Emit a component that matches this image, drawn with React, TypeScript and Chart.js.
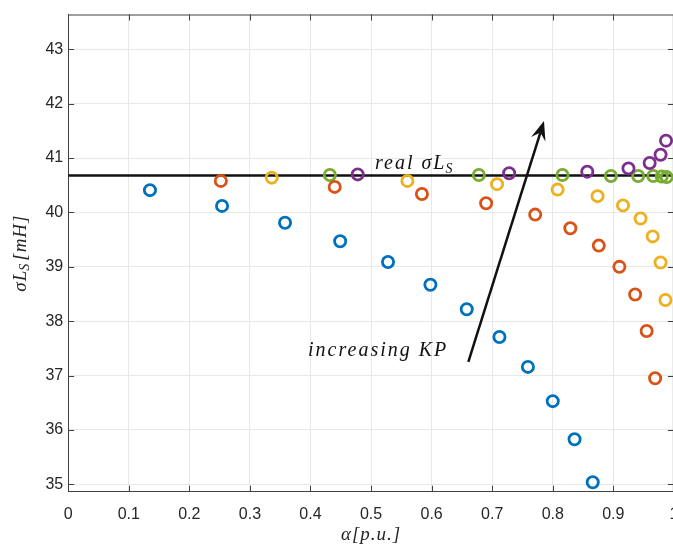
import React, { useEffect, useRef } from 'react';
import { Chart, registerables } from 'chart.js';
Chart.register(...registerables);

// ---- data (alpha [p.u.], sigma*Ls [mH]) ----
const blueX = [0.135, 0.254, 0.358, 0.449, 0.528, 0.598, 0.658, 0.712, 0.759, 0.800, 0.836, 0.866];
const blueY = [40.41, 40.12, 39.81, 39.47, 39.09, 38.67, 38.22, 37.71, 37.16, 36.53, 35.83, 35.04];
const orangeX = [0.252, 0.440, 0.584, 0.690, 0.771, 0.829, 0.876, 0.910, 0.936, 0.955, 0.969];
const orangeY = [40.58, 40.47, 40.34, 40.17, 39.96, 39.71, 39.39, 39.00, 38.49, 37.82, 36.95];
const yellowX = [0.336, 0.560, 0.708, 0.808, 0.874, 0.916, 0.945, 0.965, 0.978, 0.986];
const yellowY = [40.64, 40.58, 40.52, 40.42, 40.30, 40.13, 39.89, 39.56, 39.08, 38.39];
const purpleX = [0.478, 0.728, 0.857, 0.925, 0.960, 0.978, 0.987];
const purpleY = [40.70, 40.72, 40.75, 40.81, 40.91, 41.06, 41.32];
const greenX = [0.432, 0.678, 0.816, 0.896, 0.941, 0.966, 0.980, 0.988];
const greenY = [40.69, 40.69, 40.69, 40.67, 40.67, 40.67, 40.66, 40.65];

const refLineY = 40.68;
const refLineX = [0, 1];

const xTicks = [0, 0.1, 0.2, 0.3, 0.4, 0.5, 0.6, 0.7, 0.8, 0.9, 1];
const xTickLabels = ['0', '0.1', '0.2', '0.3', '0.4', '0.5', '0.6', '0.7', '0.8', '0.9', '1'];
const yTicks = [35, 36, 37, 38, 39, 40, 41, 42, 43];
const yTickLabels = ['35', '36', '37', '38', '39', '40', '41', '42', '43'];
const xRange = [0, 1];
const yRange = [34.865, 43.64];

// annotation anchors in data coordinates
const arrowTail = [0.6606, 37.25];
const arrowTip = [0.7855, 41.68];
const realLabelAt = [0.5065, 40.80];
const incLabelAt = [0.396, 37.36];

const colors = {
  blue: '#0072BD',
  orange: '#D95319',
  yellow: '#EDB120',
  purple: '#7E2F8E',
  green: '#77AC30',
};

const toPts = (xs: number[], ys: number[]) => xs.map((x, i) => ({ x, y: ys[i] }));

const SERIF = '"Liberation Serif", "Times New Roman", serif';
const TARGET = { left: 68.2, right: 673.9, top: 14.5, bottom: 491.7 };

const decor = {
  id: 'decor',
  beforeDatasetsDraw(chart: any) {
    const { ctx, chartArea: a, scales } = chart;
    const xs = scales.x, ys = scales.y;
    ctx.save();
    ctx.strokeStyle = '#404040';
    ctx.lineWidth = 1;
    ctx.beginPath();
    ctx.moveTo(a.left, a.top + 0.5);
    ctx.lineTo(a.right, a.top + 0.5);
    ctx.moveTo(a.right - 0.5, a.top);
    ctx.lineTo(a.right - 0.5, a.bottom);
    const tl = 6;
    xTicks.forEach((v) => {
      const px = Math.round(xs.getPixelForValue(v)) + 0.5;
      ctx.moveTo(px, a.bottom);
      ctx.lineTo(px, a.bottom - tl);
      ctx.moveTo(px, a.top);
      ctx.lineTo(px, a.top + tl);
    });
    yTicks.forEach((v) => {
      const py = Math.round(ys.getPixelForValue(v)) + 0.5;
      ctx.moveTo(a.left, py);
      ctx.lineTo(a.left + tl, py);
      ctx.moveTo(a.right, py);
      ctx.lineTo(a.right - tl, py);
    });
    ctx.stroke();
    ctx.restore();
  },
  afterDatasetsDraw(chart: any) {
    const { ctx, chartArea: a, scales } = chart;
    const xs = scales.x, ys = scales.y;
    ctx.save();
    // arrow
    const tx = xs.getPixelForValue(arrowTail[0]);
    const ty = ys.getPixelForValue(arrowTail[1]);
    const hx = xs.getPixelForValue(arrowTip[0]);
    const hy = ys.getPixelForValue(arrowTip[1]);
    const dx = hx - tx, dy = hy - ty;
    const len = Math.hypot(dx, dy);
    const ux = dx / len, uy = dy / len;
    const nx = -uy, ny = ux;
    const L = 19, W = 7.5, notch = 12;
    ctx.strokeStyle = '#111';
    ctx.fillStyle = '#111';
    ctx.lineWidth = 2.5;
    ctx.beginPath();
    ctx.moveTo(tx, ty);
    ctx.lineTo(hx - ux * notch, hy - uy * notch);
    ctx.stroke();
    ctx.beginPath();
    ctx.moveTo(hx, hy);
    ctx.lineTo(hx - ux * L + nx * W, hy - uy * L + ny * W);
    ctx.lineTo(hx - ux * notch, hy - uy * notch);
    ctx.lineTo(hx - ux * L - nx * W, hy - uy * L - ny * W);
    ctx.closePath();
    ctx.fill();

    // text labels
    ctx.fillStyle = '#111';
    ctx.textBaseline = 'alphabetic';
    ctx.textAlign = 'left';
    (ctx as any).letterSpacing = '2px';
    ctx.font = `italic 20px ${SERIF}`;
    const x0 = xs.getPixelForValue(realLabelAt[0]);
    const y0 = ys.getPixelForValue(realLabelAt[1]);
    ctx.fillText('real σL', x0, y0);
    const w0 = ctx.measureText('real σL').width;
    ctx.font = `italic 14px ${SERIF}`;
    ctx.fillText('S', x0 + w0 - 1, y0 + 4);

    ctx.font = `italic 20px ${SERIF}`;
    ctx.fillText('increasing KP', xs.getPixelForValue(incLabelAt[0]), ys.getPixelForValue(incLabelAt[1]));

    // axis titles
    ctx.fillStyle = '#262626';
    (ctx as any).letterSpacing = '1px';
    ctx.textBaseline = 'middle';
    ctx.font = `italic 19px ${SERIF}`;
    const xt = 'α[p.u.]';
    const xtw = ctx.measureText(xt).width;
    ctx.fillText(xt, (a.left + a.right) / 2 - xtw / 2, 535);

    // y title, rotated
    ctx.save();
    ctx.translate(21, (a.top + a.bottom) / 2);
    ctx.rotate(-Math.PI / 2);
    ctx.font = `italic 19px ${SERIF}`;
    const p1 = 'σL';
    const w1 = ctx.measureText(p1).width;
    ctx.font = `italic 14px ${SERIF}`;
    const w2 = ctx.measureText('S').width;
    ctx.font = `italic 19px ${SERIF}`;
    const p3 = '[mH]';
    const w3 = ctx.measureText(p3).width;
    const total = w1 + w2 + 1 + w3;
    let cx = -total / 2;
    ctx.fillText(p1, cx, 0);
    cx += w1;
    ctx.font = `italic 14px ${SERIF}`;
    ctx.fillText('S', cx - 1, 4);
    cx += w2 + 1;
    ctx.font = `italic 19px ${SERIF}`;
    ctx.fillText(p3, cx, 0);
    ctx.restore();

    ctx.restore();
  },
};

export default function App() {
  const ref = useRef<HTMLCanvasElement | null>(null);
  useEffect(() => {
    if (!ref.current) return;
    const dims = { yWidth: TARGET.left, xHeight: 547 - TARGET.bottom };
    const scatterDs = (label: string, xs: number[], ys: number[], color: string) => ({
      type: 'scatter' as const,
      label,
      data: toPts(xs, ys),
      borderColor: color,
      backgroundColor: 'rgba(0,0,0,0)',
      pointStyle: 'circle',
      pointRadius: 5.6,
      pointBorderWidth: 2.8,
      showLine: false,
      order: 1,
    });
    const chart = new Chart(ref.current, {
      type: 'scatter',
      data: {
        datasets: [
          {
            type: 'line',
            label: 'real',
            data: refLineX.map((x) => ({ x, y: refLineY })),
            borderColor: '#111',
            borderWidth: 2.5,
            pointRadius: 0,
            order: 10,
          } as any,
          scatterDs('KP1', blueX, blueY, colors.blue),
          scatterDs('KP2', orangeX, orangeY, colors.orange),
          scatterDs('KP3', yellowX, yellowY, colors.yellow),
          scatterDs('KP4', purpleX, purpleY, colors.purple),
          scatterDs('KP5', greenX, greenY, colors.green),
        ],
      },
      options: {
        animation: false,
        responsive: false,
        devicePixelRatio: 1,
        layout: { padding: { left: 0, top: TARGET.top, right: 690 - TARGET.right, bottom: 0 } },
        plugins: { legend: { display: false }, tooltip: { enabled: false }, title: { display: false } },
        scales: {
          x: {
            type: 'linear',
            min: xRange[0],
            max: xRange[1],
            afterBuildTicks: (s: any) => {
              s.ticks = xTicks.map((v) => ({ value: v }));
            },
            afterFit: (s: any) => {
              s.height = dims.xHeight;
              s.paddingLeft = 0;
              s.paddingRight = 0;
            },
            ticks: {
              autoSkip: false,
              maxRotation: 0,
              padding: 13,
              color: '#262626',
              font: { family: '"Liberation Sans", Arial, sans-serif', size: 16 },
              callback: (_v: any, i: number) => xTickLabels[i],
            },
            grid: { color: '#e8e8e8', lineWidth: 1, drawTicks: false },
            border: { color: '#404040', width: 1 },
          },
          y: {
            type: 'linear',
            min: yRange[0],
            max: yRange[1],
            afterBuildTicks: (s: any) => {
              s.ticks = yTicks.map((v) => ({ value: v }));
            },
            afterFit: (s: any) => {
              s.width = dims.yWidth;
              s.paddingTop = 0;
              s.paddingBottom = 0;
            },
            ticks: {
              autoSkip: false,
              padding: 5,
              color: '#262626',
              font: { family: '"Liberation Sans", Arial, sans-serif', size: 16 },
              callback: (_v: any, i: number) => yTickLabels[i],
            },
            grid: { color: '#e8e8e8', lineWidth: 1, drawTicks: false },
            border: { color: '#404040', width: 1 },
          },
        },
      },
      plugins: [decor],
    } as any);
    // correct the chart area to the target rectangle
    const ca = chart.chartArea;
    const pad: any = (chart.options as any).layout.padding;
    pad.right += ca.right - TARGET.right;
    pad.top += TARGET.top - ca.top;
    dims.yWidth += TARGET.left - ca.left;
    dims.xHeight += ca.bottom - TARGET.bottom;
    chart.update();
    return () => chart.destroy();
  }, []);
  return (
    <div style={{ position: 'absolute', left: 0, top: 0, width: 673, height: 547, overflow: 'hidden', background: '#fff' }}>
      <canvas ref={ref} width={690} height={547} style={{ width: 690, height: 547, display: 'block' }} />
    </div>
  );
}
